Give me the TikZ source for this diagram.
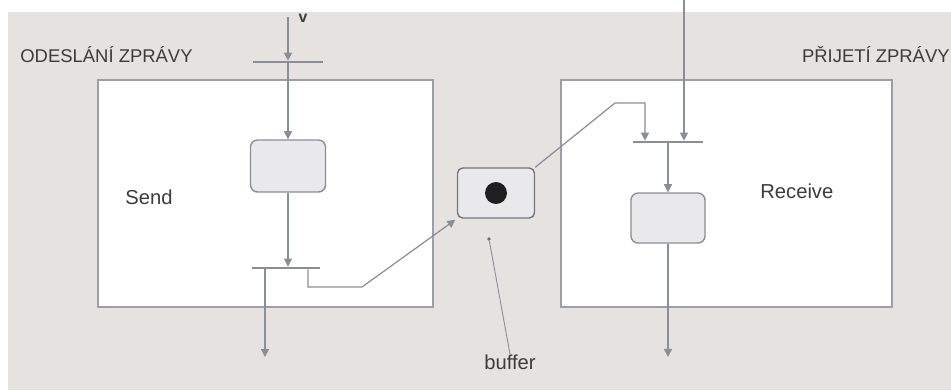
\documentclass[tikz,border=0pt]{standalone}
\usepackage{fontspec}
\setmainfont{Liberation Sans}
\usepackage{xcolor}
\usepackage{tikz}
\usetikzlibrary{arrows.meta,positioning,calc}
\definecolor{msgbg}{HTML}{E6E2DF}
\definecolor{msgline}{HTML}{8A8E98}
\definecolor{msgtext}{HTML}{3C3C3E}
\definecolor{msgfill}{HTML}{E9E9EC}
\tikzset{
  msgframe/.style={
    rectangle, draw=msgline!85, fill=white, line width=0.7pt, inner sep=0pt
  },
  msgact/.style={
    rectangle, rounded corners=4pt, draw=msgline, fill=msgfill, line width=0.8pt,
    minimum width=1.5cm, minimum height=1.04cm, inner sep=0pt
  },
  msgbuffer/.style={
    rectangle, rounded corners=3pt, draw=msgline!120, fill=msgfill, line width=0.8pt,
    minimum width=1.54cm, minimum height=1cm, inner sep=0pt
  },
  msgbar/.style={
    rectangle, fill=msgline, minimum height=1.1pt, inner sep=0pt
  },
  msgtoken/.style={circle, fill=black!88, minimum size=0.44cm, inner sep=0pt},
  msgpindot/.style={circle, fill=msgline!130, minimum size=2.2pt, inner sep=0pt},
  msgedge/.style={-{Triangle[length=4.6pt,width=4.6pt]}, draw=msgline, line width=0.7pt},
  msgthin/.style={draw=msgline, line width=0.5pt},
  msgtitle/.style={font=\fontsize{10.5}{12}\selectfont, text=msgtext, inner sep=0pt},
  msglabel/.style={font=\fontsize{11.5}{13}\selectfont, text=msgtext, inner sep=0pt}
}

\begin{document}
\begin{tikzpicture}[x=0.02cm,y=-0.02cm]
  \useasboundingbox (0,0) rectangle (951,390);
  \fill[msgbg] (8,12) rectangle (951,390);
  % the two swimlanes
  \node[msgframe,minimum width=6.7cm,minimum height=4.54cm] (sendfr) at (265.5,193.5) {};
  \node[msgframe,minimum width=6.62cm,minimum height=4.54cm] (recvfr) at (726.5,193.5) {};
  \node[msgtitle,anchor=west] (sendttl) at (20,55) {ODESLÁNÍ ZPRÁVY};
  \node[msgtitle,anchor=east] (recvttl) at (950,55) {PŘIJETÍ ZPRÁVY};
  \node[msglabel,anchor=west] (sendlbl) at (125,197) {Send};
  \node[msglabel,anchor=west] (recvlbl) at (760,191) {Receive};
  % sending side
  \coordinate (vin) at (288,17);
  \node[msgtitle,font=\fontsize{9}{10}\selectfont\bfseries] (vlbl) at (303,18) {v};
  \node[msgbar,minimum width=1.42cm] (sbar1) at (288,62) {};
  \node[msgact] (sendact) at (288,166) {};
  \node[msgbar,minimum width=1.36cm] (sbar2) at (286,268) {};
  \coordinate (sout) at (265,357);
  \coordinate (sjog) at (308,287);
  \coordinate (skink) at (362,287);
  % buffer
  \node[msgbuffer] (buffer) at (496,193) {};
  \node[msgtoken] (token) at (buffer.center) {};
  \node[msgpindot] (bufdot) at (489,239) {};
  \node[msglabel] (buflbl) at (510,362) {buffer};
  % receiving side
  \coordinate (rin) at (684,0);
  \coordinate (rk1) at (615,103);
  \coordinate (rk2) at (645,103);
  \node[msgbar,minimum width=1.4cm] (rbar1) at (668,142) {};
  \node[msgact,minimum width=1.48cm,minimum height=1cm] (recvact) at (668,218) {};
  \coordinate (rout) at (668,357);
  % flows
  \draw[msgedge] (vin) -- (sbar1);
  \draw[msgedge] (sbar1) -- (sendact);
  \draw[msgedge] (sendact.south) -- (sendact.south |- sbar2.north);
  \draw[msgedge] (sbar2.south -| sout) -- (sout);
  \draw[msgedge,shorten >=1pt] (sbar2.south -| sjog) -- (sjog) -- (skink) -- (buffer.south west);
  \draw[msgedge] (buffer.north east) -- (rk1) -- (rk2) -- (rk2 |- rbar1.north);
  \draw[msgedge] (rin) -- (rin |- rbar1.north);
  \draw[msgedge] (rbar1) -- (recvact);
  \draw[msgedge] (recvact) -- (rout);
  \draw[msgthin] (bufdot) -- (buflbl.north);
\end{tikzpicture}
\end{document}
